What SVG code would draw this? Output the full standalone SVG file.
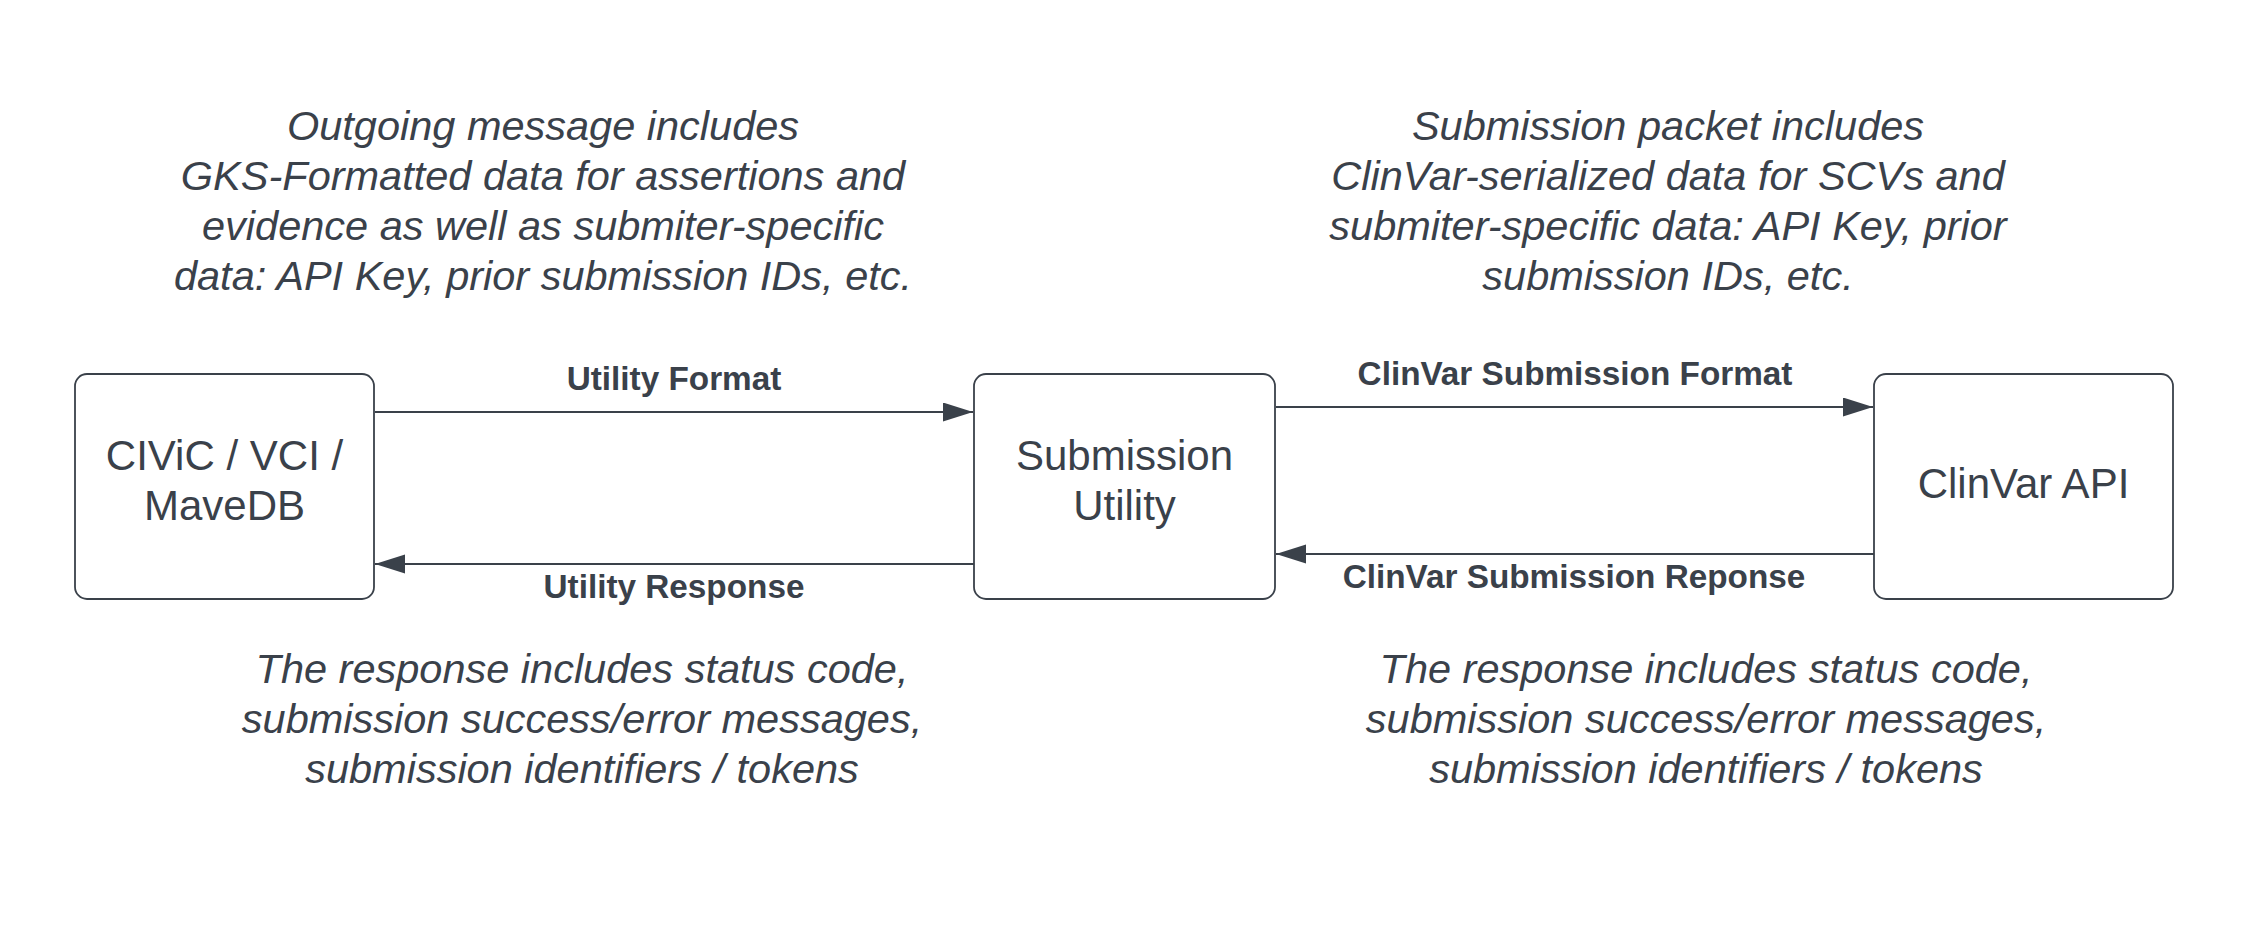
<svg xmlns="http://www.w3.org/2000/svg" width="2250" height="938" viewBox="0 0 2250 938">
  <style>
    text { font-family: "Liberation Sans", Arial, sans-serif; fill: #3a414a; text-anchor: middle; }
    .node rect { fill: #ffffff; stroke: #3a414a; stroke-width: 1.8; }
    .nodelabel { font-size: 42px; }
    .note { font-size: 41.5px; font-style: italic; }
    .elabel { font-size: 33.3px; font-weight: bold; }
    .edge { stroke: #3a414a; stroke-width: 2; fill: none; marker-end: url(#arrow); }
  </style>
  <defs>
    <marker id="arrow" markerUnits="userSpaceOnUse" markerWidth="30" markerHeight="20" refX="30" refY="9.5" orient="auto">
      <path d="M0,0 L30,9.5 L0,19 Z" fill="#3a414a"/>
    </marker>
  </defs>
  <rect width="2250" height="938" fill="#ffffff"/>

  <g id="note-outgoing">
    <text class="note" x="543" y="140">Outgoing message includes</text>
    <text class="note" x="543" y="190">GKS-Formatted data for assertions and</text>
    <text class="note" x="543" y="240">evidence as well as submiter-specific</text>
    <text class="note" x="543" y="290">data: API Key, prior submission IDs, etc.</text>
  </g>
  <g id="note-packet">
    <text class="note" x="1668" y="140">Submission packet includes</text>
    <text class="note" x="1668" y="190">ClinVar-serialized data for SCVs and</text>
    <text class="note" x="1668" y="240">submiter-specific data: API Key, prior</text>
    <text class="note" x="1668" y="290">submission IDs, etc.</text>
  </g>
  <g id="note-response-left">
    <text class="note" x="582" y="683">The response includes status code,</text>
    <text class="note" x="582" y="733">submission success/error messages,</text>
    <text class="note" x="582" y="783">submission identifiers / tokens</text>
  </g>
  <g id="note-response-right">
    <text class="note" x="1706" y="683">The response includes status code,</text>
    <text class="note" x="1706" y="733">submission success/error messages,</text>
    <text class="note" x="1706" y="783">submission identifiers / tokens</text>
  </g>

  <g id="connectors">
    <path class="edge" d="M375,412 H973"/>
    <path class="edge" d="M974,564 H375"/>
    <path class="edge" d="M1276,407 H1873"/>
    <path class="edge" d="M1874,554 H1276"/>
    <text class="elabel" x="674" y="390">Utility Format</text>
    <text class="elabel" x="674" y="598">Utility Response</text>
    <text class="elabel" x="1575" y="385">ClinVar Submission Format</text>
    <text class="elabel" x="1574" y="588">ClinVar Submission Reponse</text>
  </g>

  <g id="node-civic" class="node">
    <rect x="75" y="374" width="299" height="225" rx="12"/>
    <text class="nodelabel" x="224.5" y="470">CIViC / VCI /</text>
    <text class="nodelabel" x="224.5" y="520">MaveDB</text>
  </g>
  <g id="node-utility" class="node">
    <rect x="974" y="374" width="301" height="225" rx="12"/>
    <text class="nodelabel" x="1124.5" y="470">Submission</text>
    <text class="nodelabel" x="1124.5" y="520">Utility</text>
  </g>
  <g id="node-clinvar" class="node">
    <rect x="1874" y="374" width="299" height="225" rx="12"/>
    <text class="nodelabel" x="2023.5" y="498">ClinVar API</text>
  </g>
</svg>
